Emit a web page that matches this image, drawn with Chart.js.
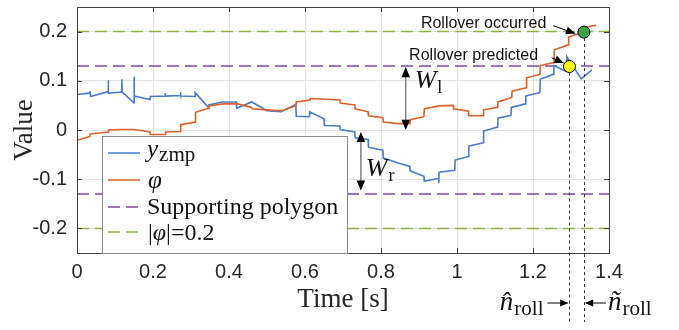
<!DOCTYPE html>
<html>
<head>
<meta charset="utf-8">
<script src="https://cdn.jsdelivr.net/npm/chart.js@4.4.1/dist/chart.umd.min.js"></script>
<style>
  html, body { margin: 0; padding: 0; background: #fff; }
  #wrap { width: 679px; height: 330px; }
</style>
</head>
<body>
<div id="wrap"><canvas id="chart"></canvas></div>
<script>
// y_zmp trace (time in s, value)
const zmpTime = [0, 0.033, 0.034, 0.036, 0.082, 0.082, 0.083, 0.118, 0.118, 0.119,
  0.150, 0.150, 0.151, 0.192, 0.193, 0.232, 0.232, 0.233, 0.272, 0.272,
  0.273, 0.311, 0.311, 0.346, 0.347, 0.382, 0.419, 0.420, 0.460, 0.500,
  0.537, 0.576, 0.577, 0.612, 0.612, 0.650, 0.651, 0.692, 0.693, 0.731,
  0.732, 0.766, 0.767, 0.805, 0.806, 0.845, 0.876, 0.877, 0.913, 0.914,
  0.952, 0.952, 0.953, 0.994, 0.995, 1.030, 1.031, 1.069, 1.070, 1.107,
  1.108, 1.142, 1.143, 1.180, 1.181, 1.218, 1.219, 1.253, 1.255, 1.287,
  1.289, 1.327, 1.355];
const zmpValue = [0.072, 0.075, 0.079, 0.068, 0.078, 0.101, 0.075, 0.077, 0.103, 0.077,
  0.055, 0.108, 0.069, 0.062, 0.068, 0.069, 0.075, 0.069, 0.070, 0.077,
  0.069, 0.068, 0.076, 0.046, 0.051, 0.057, 0.057, 0.044, 0.057, 0.039,
  0.037, 0.052, 0.028, 0.027, 0.037, 0.023, 0.009, 0.008, 0.001, -0.004,
  -0.016, -0.019, -0.035, -0.041, -0.057, -0.067, -0.074, -0.083, -0.094, -0.104,
  -0.098, -0.108, -0.086, -0.082, -0.061, -0.054, -0.033, -0.026, -0.002, 0.006,
  0.024, 0.030, 0.046, 0.053, 0.069, 0.076, 0.103, 0.113, 0.131, 0.119,
  0.149, 0.104, 0.122];

// phi trace
const phiTime = [0, 0.034, 0.035, 0.082, 0.083, 0.118, 0.150, 0.192, 0.193, 0.232,
  0.233, 0.272, 0.273, 0.311, 0.312, 0.346, 0.347, 0.384, 0.422, 0.460,
  0.461, 0.500, 0.537, 0.576, 0.577, 0.613, 0.614, 0.692, 0.693, 0.731,
  0.732, 0.766, 0.767, 0.805, 0.806, 0.845, 0.876, 0.877, 0.913, 0.914,
  0.952, 0.990, 0.991, 1.030, 1.031, 1.069, 1.070, 1.107, 1.108, 1.144,
  1.145, 1.182, 1.183, 1.218, 1.219, 1.255, 1.256, 1.293, 1.294, 1.331,
  1.332, 1.366];
const phiValue = [-0.021, -0.013, -0.008, -0.004, 0.000, 0.001, 0.001, -0.004, -0.009, -0.009,
  -0.004, -0.003, 0.011, 0.016, 0.036, 0.044, 0.049, 0.053, 0.053, 0.046,
  0.043, 0.041, 0.039, 0.049, 0.057, 0.061, 0.064, 0.061, 0.055, 0.051,
  0.043, 0.037, 0.029, 0.025, 0.016, 0.013, 0.013, 0.021, 0.027, 0.043,
  0.049, 0.050, 0.043, 0.038, 0.029, 0.029, 0.041, 0.046, 0.057, 0.066,
  0.079, 0.086, 0.106, 0.113, 0.131, 0.137, 0.163, 0.173, 0.189, 0.199,
  0.208, 0.213];

const polygonLimit = 0.13;
const phiLimit = 0.2;
const xTicks = [0, 0.2, 0.4, 0.6, 0.8, 1, 1.2, 1.4];
const yTicks = [-0.2, -0.1, 0, 0.1, 0.2];
const predictedPoint = { x: 1.296, y: 0.129 };
const occurredPoint = { x: 1.334, y: 0.199 };
// W arrows: [time, top value, bottom value]
const wLeft = [0.865, 0.128, 0.0];
const wRight = [0.747, -0.004, -0.123];

const BLUE = '#4a7cc9';
const ORANGE = '#d9622b';
const PURPLE = '#8245a0';
const GREEN = '#8cb443';
const SERIF = '"Liberation Serif", "DejaVu Serif", serif';
const SANS = '"Liberation Sans", Arial, sans-serif';

const toPoints = (xs, ys) => xs.map((x, i) => ({ x: x, y: ys[i] }));

function arrowHead(ctx, x1, y1, x2, y2, size) {
    const a = Math.atan2(y2 - y1, x2 - x1);
    ctx.beginPath();
    ctx.moveTo(x2, y2);
    ctx.lineTo(x2 - size * Math.cos(a - 0.4), y2 - size * Math.sin(a - 0.4));
    ctx.lineTo(x2 - size * Math.cos(a + 0.4), y2 - size * Math.sin(a + 0.4));
    ctx.closePath();
    ctx.fill();
}

// text with a subscript part, returns total width
function subText(ctx, x, y, main, mainFont, sub, subFont, subDy) {
    ctx.font = mainFont;
    ctx.fillText(main, x, y);
    const w = ctx.measureText(main).width;
    ctx.font = subFont;
    ctx.fillText(sub, x + w + 1, y + subDy);
    return w + 1 + ctx.measureText(sub).width;
}

function subWidth(ctx, main, mainFont, sub, subFont) {
    ctx.font = mainFont;
    const w = ctx.measureText(main).width;
    ctx.font = subFont;
    return w + 1 + ctx.measureText(sub).width;
}

const limitLine = (value, color) => ({
    data: [{ x: 0, y: value }, { x: 1.4, y: value }],
    borderColor: color,
    borderWidth: 1.5,
    borderDash: [12, 6],
    showLine: true,
    pointRadius: 0,
    order: 4
});

const overlay = {
    id: 'overlay',
    afterDraw(chart) {
        const { ctx, chartArea: a, scales: { x, y } } = chart;
        ctx.save();

        // inside tick marks (MATLAB style box)
        ctx.strokeStyle = '#404040';
        ctx.lineWidth = 1;
        ctx.beginPath();
        xTicks.forEach(t => {
            const px = Math.round(x.getPixelForValue(t)) + 0.5;
            ctx.moveTo(px, a.bottom); ctx.lineTo(px, a.bottom - 5);
            ctx.moveTo(px, a.top); ctx.lineTo(px, a.top + 5);
        });
        yTicks.forEach(v => {
            const py = Math.round(y.getPixelForValue(v)) + 0.5;
            ctx.moveTo(a.left, py); ctx.lineTo(a.left + 5, py);
            ctx.moveTo(a.right, py); ctx.lineTo(a.right - 5, py);
        });
        ctx.stroke();
        ctx.strokeRect(Math.round(a.left) + 0.5, Math.round(a.top) + 0.5,
            Math.round(a.right - a.left), Math.round(a.bottom - a.top));

        // vertical dotted markers below the dots
        ctx.setLineDash([3, 3]);
        ctx.strokeStyle = '#333';
        [predictedPoint, occurredPoint].forEach(p => {
            const px = Math.round(x.getPixelForValue(p.x)) + 0.5;
            ctx.beginPath();
            ctx.moveTo(px, y.getPixelForValue(p.y) + 6);
            ctx.lineTo(px, 322);
            ctx.stroke();
        });
        ctx.setLineDash([]);

        // W arrows
        ctx.fillStyle = '#000';
        [wLeft, wRight].forEach(w => {
            const px = x.getPixelForValue(w[0]);
            const t = y.getPixelForValue(w[1]);
            const b = y.getPixelForValue(w[2]);
            ctx.strokeStyle = '#808080';
            ctx.lineWidth = 1.5;
            ctx.beginPath();
            ctx.moveTo(px, t + 6); ctx.lineTo(px, b - 6);
            ctx.stroke();
            arrowHead(ctx, px, b, px, t, 11);
            arrowHead(ctx, px, t, px, b, 11);
        });
        ctx.fillStyle = '#111';
        ctx.textBaseline = 'alphabetic';
        ctx.textAlign = 'left';
        subText(ctx, x.getPixelForValue(wLeft[0]) + 9, y.getPixelForValue(0.086),
            'W', 'italic 26px ' + SERIF, 'l', '18px ' + SERIF, 5);
        subText(ctx, x.getPixelForValue(wRight[0]) + 5, y.getPixelForValue(-0.094),
            'W', 'italic 26px ' + SERIF, 'r', '18px ' + SERIF, 5);

        // rollover callouts
        ctx.font = '16px ' + SANS;
        ctx.fillStyle = '#111';
        ctx.textBaseline = 'middle';
        ctx.fillText('Rollover occurred', x.getPixelForValue(0.905), y.getPixelForValue(0.216));
        ctx.fillText('Rollover predicted', x.getPixelForValue(0.874), y.getPixelForValue(0.152));
        ctx.strokeStyle = '#000';
        ctx.lineWidth = 1;
        ctx.fillStyle = '#000';
        [[1.253, 0.212, 1.311, 0.196], [1.249, 0.147, 1.281, 0.136]].forEach(r => {
            const x1 = x.getPixelForValue(r[0]), y1 = y.getPixelForValue(r[1]);
            const x2 = x.getPixelForValue(r[2]), y2 = y.getPixelForValue(r[3]);
            ctx.beginPath(); ctx.moveTo(x1, y1); ctx.lineTo(x2, y2); ctx.stroke();
            arrowHead(ctx, x1, y1, x2, y2, 10);
        });

        // n_roll markers
        const pxPred = x.getPixelForValue(predictedPoint.x);
        const pxOcc = x.getPixelForValue(occurredPoint.x);
        const ay = 303;
        ctx.beginPath();
        ctx.moveTo(pxPred - 22, ay); ctx.lineTo(pxPred - 2, ay);
        ctx.moveTo(pxOcc + 22, ay); ctx.lineTo(pxOcc + 2, ay);
        ctx.stroke();
        arrowHead(ctx, pxPred - 22, ay, pxPred - 1, ay, 9);
        arrowHead(ctx, pxOcc + 22, ay, pxOcc + 1, ay, 9);
        ctx.fillStyle = '#111';
        ctx.textBaseline = 'alphabetic';
        const nFont = 'italic 27px ' + SERIF, rFont = '21px ' + SERIF;
        const nw = subWidth(ctx, 'n\u0302', nFont, 'roll', rFont);
        subText(ctx, pxPred - 26 - nw, 310, 'n\u0302', nFont, 'roll', rFont, 5);
        subText(ctx, pxOcc + 24, 310, 'n\u0303', nFont, 'roll', rFont, 5);

        // axis titles
        ctx.fillStyle = '#262626';
        ctx.textAlign = 'center';
        ctx.textBaseline = 'middle';
        ctx.font = '27px ' + SERIF;
        ctx.fillText('Time [s]', (a.left + a.right) / 2, 300);
        ctx.save();
        ctx.translate(25, (a.top + a.bottom) / 2);
        ctx.rotate(-Math.PI / 2);
        ctx.fillText('Value', 0, 0);
        ctx.restore();

        // legend box
        const lx = 102, ly = 136, lw = 245, lh = Math.round(a.bottom) - 136;
        ctx.fillStyle = '#fff';
        ctx.fillRect(lx, ly, lw, lh);
        ctx.strokeStyle = '#8a8a8a';
        ctx.lineWidth = 1;
        ctx.strokeRect(lx + 0.5, ly + 0.5, lw, lh);
        const rows = [
            { color: BLUE, dash: [], y: 153 },
            { color: ORANGE, dash: [], y: 180 },
            { color: PURPLE, dash: [12, 6], y: 207 },
            { color: GREEN, dash: [12, 6], y: 232 }
        ];
        rows.forEach(r => {
            ctx.strokeStyle = r.color;
            ctx.lineWidth = 1.5;
            ctx.setLineDash(r.dash);
            ctx.beginPath();
            ctx.moveTo(108, r.y); ctx.lineTo(140, r.y);
            ctx.stroke();
        });
        ctx.setLineDash([]);
        ctx.fillStyle = '#111';
        ctx.textAlign = 'left';
        ctx.textBaseline = 'alphabetic';
        subText(ctx, 147, 157, 'y', 'italic 25px ' + SERIF, 'zmp', '21px ' + SERIF, 4);
        ctx.font = 'italic 25px ' + SERIF;
        ctx.fillText('\u03c6', 148, 188);
        ctx.font = '24px ' + SERIF;
        ctx.fillText('Supporting polygon', 147, 214);
        ctx.fillText('|', 148, 240);
        let cx = 148 + ctx.measureText('|').width;
        ctx.font = 'italic 24px ' + SERIF;
        ctx.fillText('\u03c6', cx, 240);
        cx += ctx.measureText('\u03c6').width;
        ctx.font = '24px ' + SERIF;
        ctx.fillText('|=0.2', cx, 240);

        ctx.restore();
    }
};

new Chart(document.getElementById('chart'), {
    type: 'scatter',
    data: {
        datasets: [
            Object.assign({ label: 'Supporting polygon' }, limitLine(polygonLimit, PURPLE)),
            Object.assign({ label: 'Supporting polygon (lower)' }, limitLine(-polygonLimit, PURPLE)),
            Object.assign({ label: '|phi|=0.2' }, limitLine(phiLimit, GREEN)),
            Object.assign({ label: '|phi|=0.2 (lower)' }, limitLine(-phiLimit, GREEN)),
            {
                label: 'y_zmp',
                data: toPoints(zmpTime, zmpValue),
                borderColor: BLUE,
                borderWidth: 1.6,
                showLine: true,
                tension: 0,
                pointRadius: 0,
                order: 3
            }, {
                label: 'phi',
                data: toPoints(phiTime, phiValue),
                borderColor: ORANGE,
                borderWidth: 1.6,
                showLine: true,
                tension: 0,
                pointRadius: 0,
                order: 2
            }, {
                label: 'Rollover occurred',
                data: [occurredPoint],
                backgroundColor: '#3f9f45',
                borderColor: '#000',
                borderWidth: 1,
                pointRadius: 6,
                order: 0
            }, {
                label: 'Rollover predicted',
                data: [predictedPoint],
                backgroundColor: '#ffff00',
                borderColor: '#000',
                borderWidth: 1,
                pointRadius: 6,
                order: 0
            }
        ]
    },
    options: {
        responsive: true,
        maintainAspectRatio: false,
        animation: false,
        layout: {
            padding: { left: 0, right: 70, top: 3, bottom: 0 }
        },
        scales: {
            x: {
                type: 'linear',
                min: 0,
                max: 1.4,
                afterBuildTicks: scale => {
                    scale.ticks = xTicks.map(v => ({ value: v }));
                },
                afterFit: scale => {
                    scale.height = 77;
                    scale.paddingLeft = 0;
                    scale.paddingRight = 0;
                },
                ticks: {
                    padding: 7,
                    color: '#262626',
                    font: { family: SANS, size: 20 },
                    callback: v => String(Math.round(v * 10) / 10)
                },
                grid: {
                    color: '#e3e3e3',
                    drawTicks: false
                },
                border: { display: false }
            },
            y: {
                min: -0.25,
                max: 0.25,
                afterBuildTicks: scale => {
                    scale.ticks = yTicks.map(v => ({ value: v }));
                },
                afterFit: scale => {
                    scale.width = 77;
                    scale.paddingTop = 0;
                    scale.paddingBottom = 0;
                },
                ticks: {
                    padding: 10,
                    color: '#262626',
                    font: { family: SANS, size: 20 },
                    callback: v => String(Math.round(v * 10) / 10)
                },
                grid: {
                    color: '#e3e3e3',
                    drawTicks: false
                },
                border: { display: false }
            }
        },
        plugins: {
            legend: { display: false },
            tooltip: { enabled: false }
        }
    },
    plugins: [overlay]
});
</script>
</body>
</html>
